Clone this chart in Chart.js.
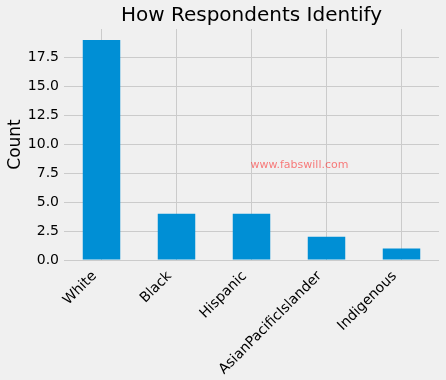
<!DOCTYPE html>
<html lang="en">
<head>
    <meta charset="UTF-8">
    <title>How Respondents Identify</title>
    <script src="https://cdn.jsdelivr.net/npm/chart.js"></script>
    <style>
        html, body { margin: 0; padding: 0; background: #f0f0f0; }
    </style>
</head>
<body>
    <canvas id="identifyChart" width="446" height="380"></canvas>

    <script>
        const categories = ['White', 'Black', 'Hispanic', 'AsianPacificIslander', 'Indigenous'];
        const counts = [19, 4, 4, 2, 1];
        const yTickStep = 2.5;
        const yMax = 19.95;
        const chartTitle = 'How Respondents Identify';
        const watermark = 'www.fabswill.com';

        const fontFamily = '"DejaVu Sans", sans-serif';

        // title and watermark drawn over the plot
        const extras = {
            id: 'extras',
            afterDraw(chart) {
                const ctx = chart.ctx;
                const area = chart.chartArea;
                ctx.save();
                ctx.fillStyle = '#000';
                ctx.font = '20px ' + fontFamily;
                ctx.textAlign = 'center';
                ctx.textBaseline = 'middle';
                ctx.fillText(chartTitle, (area.left + area.right) / 2, 16);

                const x = chart.scales.x.getPixelForValue(2);
                const y = chart.scales.y.getPixelForValue(8.2);
                ctx.fillStyle = 'rgba(255, 0, 0, 0.5)';
                ctx.font = '11px ' + fontFamily;
                ctx.textAlign = 'left';
                ctx.fillText(watermark, x - 1, y);
                ctx.restore();
            }
        };

        const ctx = document.getElementById('identifyChart').getContext('2d');
        new Chart(ctx, {
            type: 'bar',
            data: {
                labels: categories,
                datasets: [{
                    data: counts,
                    backgroundColor: '#008fd5',
                    borderWidth: 0,
                    categoryPercentage: 1,
                    barPercentage: 0.5
                }]
            },
            options: {
                responsive: false,
                animation: false,
                layout: { padding: { top: 29, right: 7, left: 0, bottom: 0 } },
                plugins: {
                    legend: { display: false },
                    tooltip: { enabled: false }
                },
                scales: {
                    x: {
                        afterFit: scale => { scale.height = 120; },
                        grid: { color: '#cbcbcb', lineWidth: 1, offset: false, drawTicks: false },
                        border: { display: false },
                        ticks: {
                            color: '#000',
                            font: { family: fontFamily, size: 14 },
                            minRotation: 45,
                            maxRotation: 45,
                            padding: 8,
                            labelOffset: -7
                        }
                    },
                    y: {
                        min: 0,
                        max: yMax,
                        afterFit: scale => { scale.width = 64; },
                        grid: { color: '#cbcbcb', lineWidth: 1, drawTicks: false },
                        border: { display: false },
                        ticks: {
                            stepSize: yTickStep,
                            includeBounds: false,
                            color: '#000',
                            padding: 5,
                            font: { family: fontFamily, size: 14 },
                            callback: v => v.toFixed(1)
                        },
                        title: {
                            display: true,
                            text: 'Count',
                            color: '#000',
                            font: { family: fontFamily, size: 17 },
                            padding: { top: 5, bottom: 0 }
                        }
                    }
                }
            },
            plugins: [extras]
        });
    </script>
</body>
</html>
